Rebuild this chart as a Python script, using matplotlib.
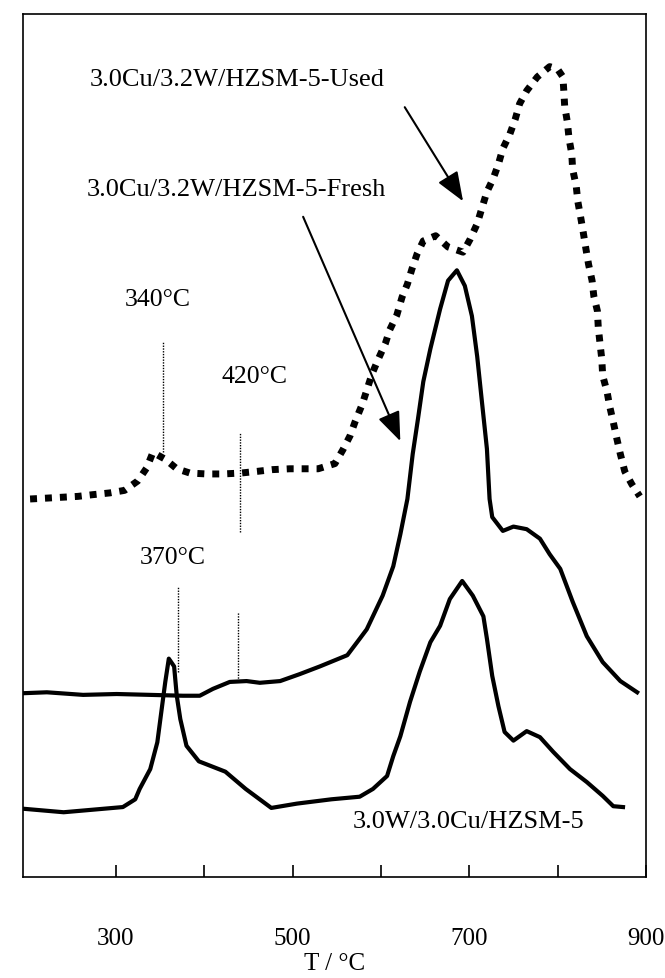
import numpy as np
import matplotlib
matplotlib.use("Agg")
import matplotlib.pyplot as plt

# TPR traces (T in degC, signal in arbitrary units)
used_T = [203, 222, 239, 257, 274, 293, 310, 325, 335, 342, 356, 369, 384, 403,
          421, 441, 460, 477, 497, 512, 529, 548, 557, 565, 571, 579, 584, 590,
          597, 605, 610, 618, 624, 630, 635, 641, 648, 662, 676, 693, 701, 709,
          714, 720, 727, 733, 738, 746, 752, 757, 765, 777, 791, 800, 806, 807,
          808, 811, 813, 816, 817, 821, 823, 826, 829, 832, 835, 839, 841, 845,
          846, 848, 850, 851, 856, 859, 863, 867, 871, 876, 884, 893]
used_S = [43.8, 43.9, 44.0, 44.1, 44.3, 44.5, 44.8, 45.9, 47.4, 49.2, 48.4, 47.3,
          46.8, 46.7, 46.7, 46.8, 47.0, 47.2, 47.3, 47.3, 47.3, 47.9, 49.5, 51.1,
          52.8, 54.8, 56.4, 58.3, 60.0, 61.8, 63.4, 65.1, 67.2, 68.7, 70.4, 72.2,
          73.7, 74.3, 73.0, 72.4, 73.9, 75.7, 77.4, 79.4, 80.9, 82.6, 84.4, 86.1,
          87.8, 89.6, 91.1, 92.7, 93.9, 93.6, 92.7, 91.1, 89.3, 87.5, 85.5, 83.8,
          82.0, 80.1, 78.2, 76.5, 74.7, 72.8, 71.0, 69.1, 67.3, 65.6, 63.7, 61.8,
          60.0, 58.1, 56.2, 54.5, 52.7, 50.8, 49.0, 47.0, 45.5, 44.1]

fresh_T = [197, 222, 263, 301, 339, 376, 395, 410, 429, 448, 463, 486, 508, 531,
           562, 576, 584, 602, 614, 622, 630, 636, 642, 648, 656, 667, 676, 686,
           695, 703, 709, 714, 720, 723, 726, 738, 750, 765, 780, 791, 803, 817,
           833, 851, 871, 890]
fresh_S = [21.3, 21.4, 21.1, 21.2, 21.1, 21.0, 21.0, 21.8, 22.6, 22.7, 22.5, 22.7,
           23.5, 24.4, 25.7, 27.6, 28.7, 32.6, 36.0, 39.7, 43.8, 49.0, 53.1, 57.4,
           61.2, 65.8, 69.1, 70.3, 68.5, 65.0, 60.3, 55.4, 49.6, 43.8, 41.7, 40.1,
           40.6, 40.3, 39.2, 37.4, 35.7, 31.9, 27.9, 24.9, 22.7, 21.4]

wcu_T = [196, 241, 308, 322, 327, 339, 347, 352, 356, 360, 366, 369, 373, 380,
         394, 424, 447, 476, 505, 544, 576, 591, 607, 614, 622, 633, 644, 656,
         667, 678, 692, 704, 716, 720, 726, 733, 740, 750, 765, 780, 795, 814,
         833, 851, 863, 874]
wcu_S = [7.9, 7.5, 8.1, 9.0, 10.2, 12.5, 15.6, 19.5, 22.6, 25.3, 24.4, 21.0, 18.3,
         15.2, 13.4, 12.2, 10.2, 8.0, 8.5, 9.0, 9.3, 10.2, 11.7, 14.0, 16.3, 20.3,
         23.8, 27.2, 29.1, 32.2, 34.3, 32.6, 30.2, 27.6, 23.3, 19.8, 16.8, 15.8,
         16.9, 16.2, 14.5, 12.5, 11.0, 9.4, 8.2, 8.1]

# peak markers: (x position, bottom, top, label)
marker_T = [353, 441, 370, 438]
marker_lo = [49.2, 40.0, 23.8, 22.7]
marker_hi = [62.0, 51.6, 33.7, 30.7]

tick_major = [300, 500, 700, 900]
tick_minor = [400, 600, 800]

plt.rcParams['font.family'] = ['Liberation Serif', 'DejaVu Serif']

fig = plt.figure(figsize=(6.65, 9.79), dpi=100)
ax = fig.add_axes([0.0346, 0.1032, 0.9368, 0.8815])

ax.plot(used_T, used_S, color='black', lw=5, linestyle=(0, (1, 1.15)),
        dash_capstyle='butt', solid_joinstyle='miter')
ax.plot(fresh_T, fresh_S, color='black', lw=3)
ax.plot(wcu_T, wcu_S, color='black', lw=3)

for t, lo, hi in zip(marker_T, marker_lo, marker_hi):
    ax.plot([t, t], [lo, hi], color='black', lw=1, linestyle=(0, (1, 1)))

fs = 19
ax.text(347, 67.0, '340°C', fontsize=18.5, ha='center', va='center')
ax.text(457, 58.1, '420°C', fontsize=18.5, ha='center', va='center')
ax.text(364, 37.1, '370°C', fontsize=18.5, ha='center', va='center')
ax.text(270, 92.5, '3.0Cu/3.2W/HZSM-5-Used', fontsize=fs, ha='left', va='center')
ax.text(267, 79.7, '3.0Cu/3.2W/HZSM-5-Fresh', fontsize=fs, ha='left', va='center')
ax.text(568, 6.5, '3.0W/3.0Cu/HZSM-5', fontsize=fs, ha='left', va='center')

arrow = dict(arrowstyle='-|>,head_length=1.8,head_width=0.7', color='black',
             lw=1.5, shrinkA=0, shrinkB=0)
ax.annotate('', xy=(693, 78.3), xytext=(627, 89.2), arrowprops=arrow)
ax.annotate('', xy=(622, 50.5), xytext=(512, 76.5), arrowprops=arrow)

ax.set_xlim(195, 900)
ax.set_ylim(0, 100)
ax.set_xticks(tick_major)
ax.set_xticks(tick_minor, minor=True)
ax.tick_params(axis='x', which='both', direction='in', length=9, width=1.2,
               pad=36, labelsize=18)
ax.set_yticks([])
ax.set_xlabel('T / °C', fontsize=18, labelpad=2)
for s in ax.spines.values():
    s.set_linewidth(1.2)

fig.savefig('out.png', dpi=100)
